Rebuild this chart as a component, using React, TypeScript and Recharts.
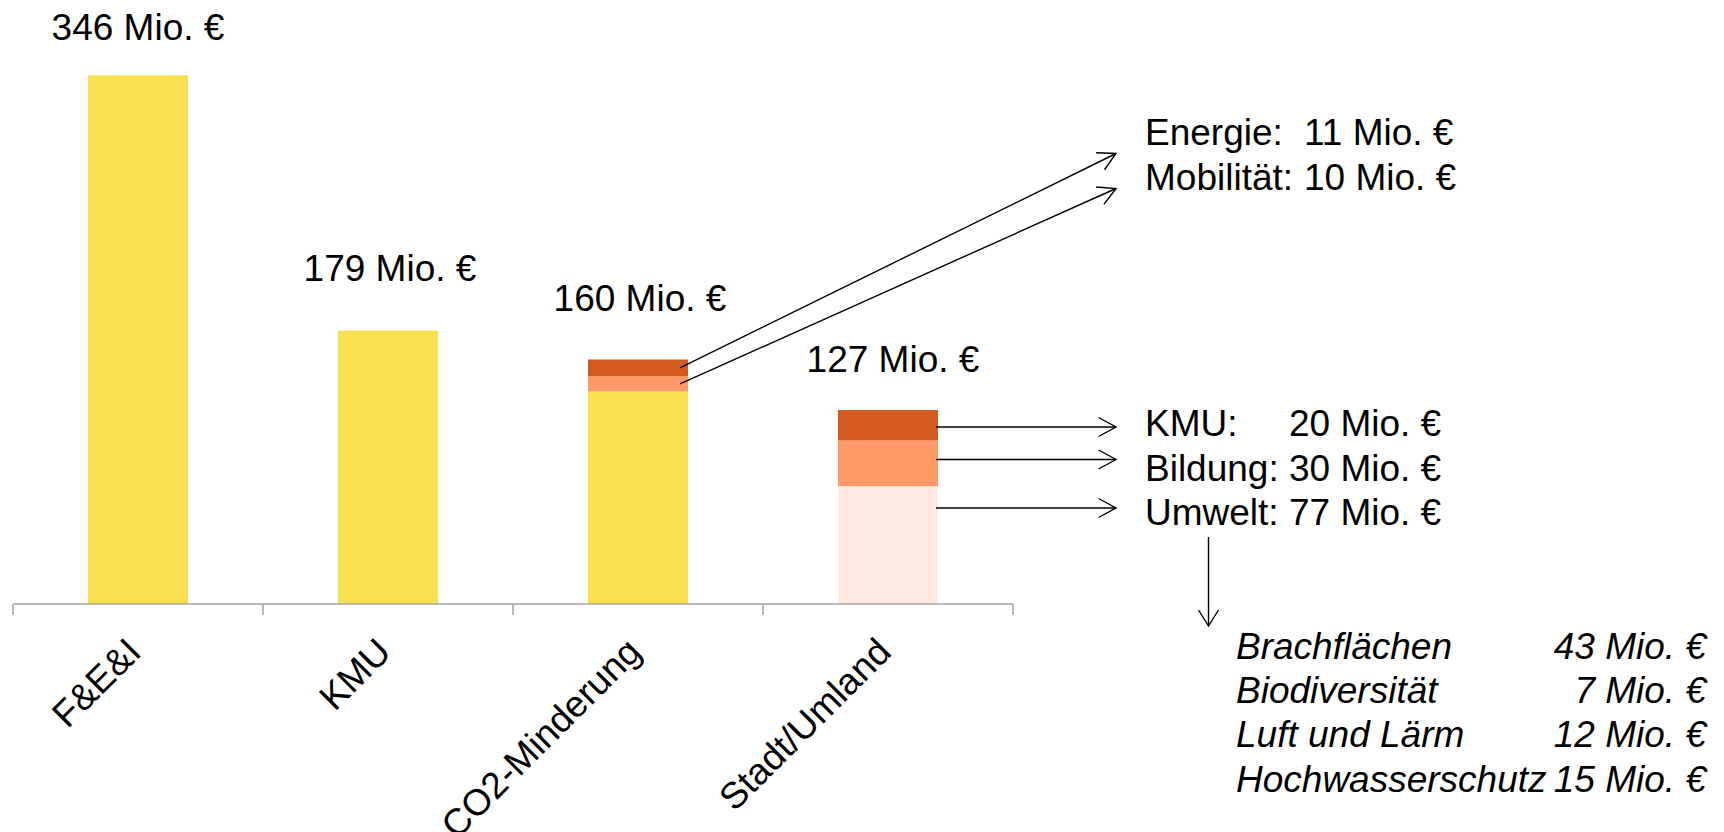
import React from 'react';
import { BarChart, Bar, XAxis, YAxis, Rectangle } from 'recharts';

// ---------- data ----------
const categories = ['F&E&I', 'KMU', 'CO2-Minderung', 'Stadt/Umland'];
const baseValues = [346, 179, 139, 0]; // yellow
const umweltValues = [0, 0, 0, 77]; // light peach
const midValues = [0, 0, 10, 30]; // Mobilität / Bildung
const topValues = [0, 0, 11, 20]; // Energie / KMU

const co2PartNames = ['Energie:', 'Mobilität:'];
const stadtPartNames = ['KMU:', 'Bildung:', 'Umwelt:'];
const umweltPartNames = ['Brachflächen', 'Biodiversität', 'Luft und Lärm', 'Hochwasserschutz'];
const umweltPartValues = [43, 7, 12, 15];

const UNIT = ' Mio. €';

// ---------- styles ----------
const FONT = '"Liberation Sans", Arial, Helvetica, sans-serif';
const FS = 37;
const COLORS: any = { base: '#F9DF52', low: '#FFEADF', mid: '#FF9966', top: '#D35B21' };
const AXIS_GREY = '#A3A3A3';
const W = 1724;
const H = 832;
const MARGIN = { top: 8, right: 711, bottom: 227, left: 13 };
const BAND = (W - MARGIN.left - MARGIN.right) / categories.length;
const TICK_LEN = 11;
const totalGap = [35, 49, 48, 38];
const totalDx = [0, 2, 2, 5];
const CO2_INDEX = 2;
const STADT_INDEX = 3;
const NOTE_X = 1145;
const TIP_X = 1116;
const co2Baselines = [145, 189.5];
const co2ArrowTipY = [153.5, 188.5];
const co2ValueX = 1304;
const stadtBaselines = [435.5, 480.5, 525];
const stadtArrowY = [427, 459.5, 508];
const stadtValueX = 1289;
const listX = 1236;
const listValueRight = 1706;
const listBaselines = [658.5, 702.5, 747, 791.5];
const downArrow = { x: 1208.5, y1: 537, y2: 626 };

const data = categories.map((name, i) => ({
  name,
  base: baseValues[i],
  low: umweltValues[i],
  mid: midValues[i],
  top: topValues[i],
}));
const totals = data.map((d) => d.base + d.low + d.mid + d.top);
const seriesOrder = ['base', 'low', 'mid', 'top'];
const topKeyOf = (i: number) => {
  let k = 'base';
  seriesOrder.forEach((s) => {
    if ((data[i] as any)[s] > 0) k = s;
  });
  return k;
};

const Arrow = ({ x1, y1, x2, y2, back = 17.5, half = 9.5 }: any) => {
  const dx = x2 - x1;
  const dy = y2 - y1;
  const len = Math.hypot(dx, dy) || 1;
  const ux = dx / len;
  const uy = dy / len;
  const bx = x2 - ux * back;
  const by = y2 - uy * back;
  const px = -uy * half;
  const py = ux * half;
  return (
    <g stroke="#000" strokeWidth={1.4} fill="none">
      <line x1={x1} y1={y1} x2={x2} y2={y2} />
      <polyline points={`${bx + px},${by + py} ${x2},${y2} ${bx - px},${by - py}`} />
    </g>
  );
};

const txt = (x: number, y: number, s: string, extra: any = {}) => (
  <text x={x} y={y} fontFamily={FONT} fontSize={FS} fill="#000" {...extra}>
    {s}
  </text>
);

const makeShape = (key: string) => (props: any) => {
  const x = Number(props.x);
  const y = Number(props.y);
  const w = Number(props.width);
  const h = Number(props.height);
  const name = props.payload && props.payload.name;
  const index = categories.indexOf(name);
  const top = Math.min(y, y + h);
  const absH = Math.abs(h);
  const mid = top + absH / 2;
  const parts: any[] = [];
  if (absH > 0) {
    parts.push(<Rectangle key="r" x={x} y={top} width={w} height={absH} fill={COLORS[key]} />);
  }
  if (index < 0) return <g>{parts}</g>;

  if (topKeyOf(index) === key) {
    parts.push(
      <text
        key="total"
        x={x + w / 2 + totalDx[index]}
        y={top - totalGap[index]}
        textAnchor="middle"
        fontFamily={FONT}
        fontSize={FS}
        fill="#000"
      >
        {`${totals[index]}${UNIT}`}
      </text>
    );
  }

  if (index === CO2_INDEX && (key === 'top' || key === 'mid')) {
    const row = key === 'top' ? 0 : 1;
    const value = key === 'top' ? topValues[index] : midValues[index];
    parts.push(<Arrow key="co2a" x1={x + w - 8} y1={mid} x2={TIP_X} y2={co2ArrowTipY[row]} />);
    parts.push(<g key="co2t">{txt(NOTE_X, co2Baselines[row], co2PartNames[row])}</g>);
    parts.push(<g key="co2v">{txt(co2ValueX, co2Baselines[row], `${value}${UNIT}`)}</g>);
  }

  if (index === STADT_INDEX && (key === 'top' || key === 'mid' || key === 'low')) {
    const row = key === 'top' ? 0 : key === 'mid' ? 1 : 2;
    const value = key === 'top' ? topValues[index] : key === 'mid' ? midValues[index] : umweltValues[index];
    parts.push(<Arrow key="sa" x1={x + w - 2} y1={stadtArrowY[row]} x2={TIP_X} y2={stadtArrowY[row]} />);
    parts.push(<g key="st">{txt(NOTE_X, stadtBaselines[row], stadtPartNames[row])}</g>);
    parts.push(<g key="sv">{txt(stadtValueX, stadtBaselines[row], `${value}${UNIT}`)}</g>);
    if (key === 'low') {
      parts.push(
        <Arrow key="down" x1={downArrow.x} y1={downArrow.y1} x2={downArrow.x} y2={downArrow.y2} back={16} half={10} />
      );
      umweltPartNames.forEach((n, i) => {
        parts.push(<g key={`ln${i}`}>{txt(listX, listBaselines[i], n, { fontStyle: 'italic' })}</g>);
        parts.push(
          <g key={`lv${i}`}>
            {txt(listValueRight, listBaselines[i], `${umweltPartValues[i]}${UNIT}`, {
              fontStyle: 'italic',
              textAnchor: 'end',
            })}
          </g>
        );
      });
    }
  }
  return <g>{parts}</g>;
};

const CategoryTick = (props: any) => {
  const { x, y, payload, index } = props;
  const cx = Number(x);
  const cy = Number(y);
  const isLast = index === categories.length - 1;
  return (
    <g>
      <line x1={cx - BAND / 2} y1={cy} x2={cx - BAND / 2} y2={cy + TICK_LEN} stroke={AXIS_GREY} strokeWidth={1.5} />
      {isLast && (
        <line x1={cx + BAND / 2} y1={cy} x2={cx + BAND / 2} y2={cy + TICK_LEN} stroke={AXIS_GREY} strokeWidth={1.5} />
      )}
      <g transform={`translate(${cx + 5},${cy + 50})`}>
        <text textAnchor="end" transform="rotate(-45)" fontFamily={FONT} fontSize={FS} fill="#000">
          {payload.value}
        </text>
      </g>
    </g>
  );
};

export default function App() {
  return (
    <div style={{ position: 'absolute', left: 0, top: 0, width: W, height: H, background: '#fff' }}>
      <BarChart width={W} height={H} data={data} margin={MARGIN}>
        <XAxis
          dataKey="name"
          type="category"
          height={1}
          interval={0}
          tickSize={0}
          tickMargin={0}
          tickLine={false}
          axisLine={{ stroke: AXIS_GREY, strokeWidth: 1.5 }}
          tick={<CategoryTick />}
        />
        <YAxis hide domain={[0, 390]} type="number" />
        <Bar dataKey="base" stackId="a" fill={COLORS.base} barSize={100} isAnimationActive={false} shape={makeShape('base')} />
        <Bar dataKey="low" stackId="a" fill={COLORS.low} barSize={100} isAnimationActive={false} shape={makeShape('low')} />
        <Bar dataKey="mid" stackId="a" fill={COLORS.mid} barSize={100} isAnimationActive={false} shape={makeShape('mid')} />
        <Bar dataKey="top" stackId="a" fill={COLORS.top} barSize={100} isAnimationActive={false} shape={makeShape('top')} />
      </BarChart>
    </div>
  );
}
